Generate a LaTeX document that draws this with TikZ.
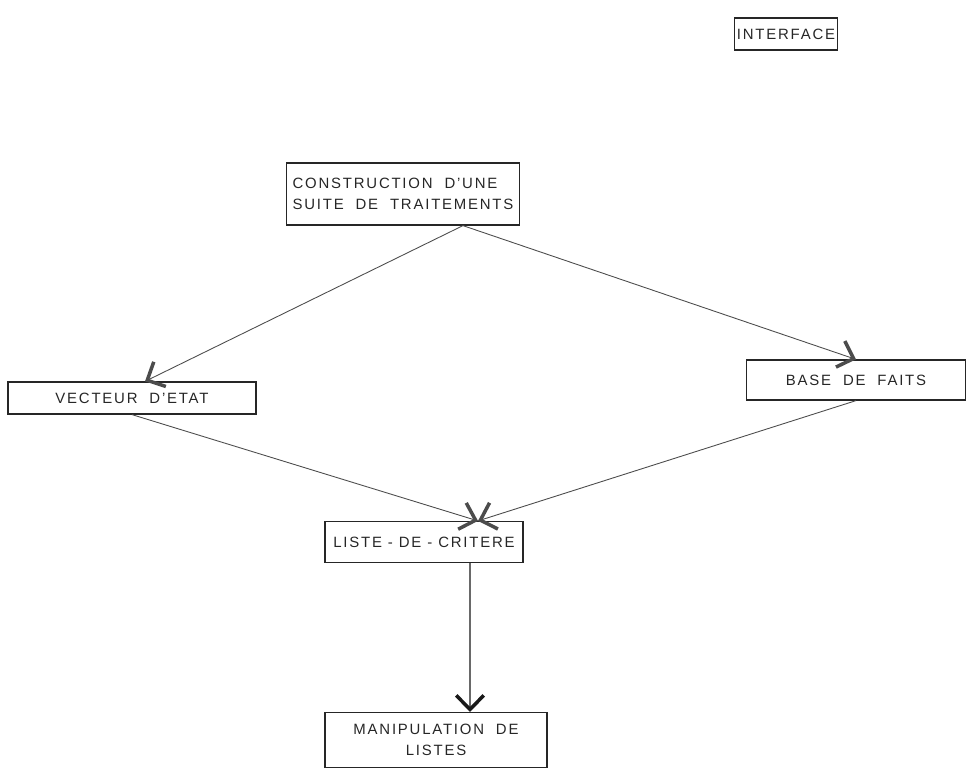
\documentclass[tikz,border=0pt]{standalone}
\usepackage{fontspec}
\setsansfont[LetterSpace=12]{Liberation Sans}
\usetikzlibrary{arrows.meta}
\tikzset{
thin, % all lines thin
>={Straight Barb[length=2.8mm,width=5.5mm,line width=2pt]},
my box/.style={draw=black!85,line width=0.7pt,rectangle,inner sep=1mm,
  font=\sffamily\fontsize{8.5}{12}\selectfont,text=black!85},
my link/.style={->,draw=black!70,line width=0.5pt},
}
\begin{document}
\begin{tikzpicture}[x=0.02cm,y=-0.02cm]
\useasboundingbox (0,0) rectangle (969,775);
\node[my box,minimum width=1.96cm,minimum height=0.64cm,inner sep=0.5mm] (iface) at (786,34) {INTERFACE};
\node[my box,minimum width=4.66cm,minimum height=1.24cm,align=left] (cons) at (403,194)
  {CONSTRUCTION\ \ D'UNE\\SUITE\ \ DE\ \ TRAITEMENTS};
\node[my box,minimum width=4.96cm,minimum height=0.64cm] (etat) at (132,398) {VECTEUR\ \ D'ETAT};
\node[my box,minimum width=4.38cm,minimum height=0.80cm] (faits) at (856,380) {BASE\ \ DE\ \ FAITS};
\node[my box,minimum width=3.96cm,minimum height=0.82cm] (crit) at (424,542) {LISTE - DE - CRITERE};
\node[my box,minimum width=4.44cm,minimum height=1.10cm,align=center] (manip) at (436,740)
  {MANIPULATION\ \ DE\\LISTES};
\draw[my link] ([xshift=1.2cm]cons.south) -- ([xshift=0.26cm]etat.north);
\draw[my link] ([xshift=1.2cm]cons.south) -- (faits.north);
\draw[my link] (etat.south) -- ([xshift=1.08cm]crit.north);
\draw[my link] (faits.south) -- ([xshift=1.08cm]crit.north);
\draw[my link,draw=black!90,line width=0.8pt] ([xshift=0.92cm]crit.south) -- ([xshift=0.68cm]manip.north);
\end{tikzpicture}
\end{document}
